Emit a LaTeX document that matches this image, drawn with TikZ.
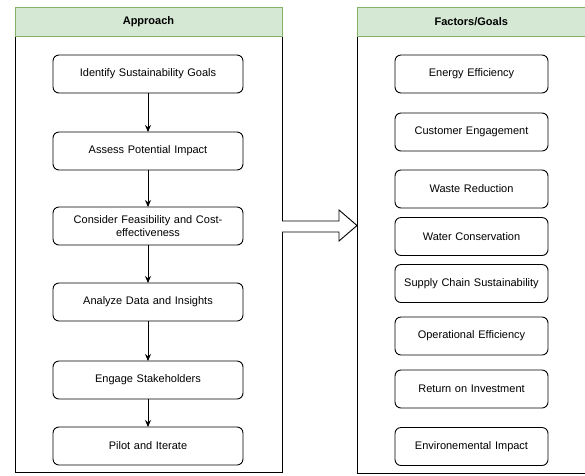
\documentclass[tikz,border=0pt]{standalone}
\usepackage{fontspec}
\setmainfont{Liberation Sans}
\usetikzlibrary{arrows.meta, positioning}
\definecolor{HeadGreen}{HTML}{D5E8D4}
\definecolor{HeadEdge}{HTML}{82B366}

\begin{document}
\begin{tikzpicture}[
  x=1pt, y=-1pt,
  font=\fontsize{11}{13}\selectfont,
  panel/.style={rectangle, draw=black, line width=0.9pt, inner sep=0pt},
  header/.style={rectangle, draw=HeadEdge, fill=HeadGreen, line width=0.9pt,
                 minimum height=29pt, inner sep=0pt,
                 font=\fontsize{11}{13}\selectfont\bfseries},
  stepbox/.style={rectangle, rounded corners=6pt, draw=black, line width=0.9pt,
                  fill=white, minimum width=190pt, minimum height=38pt,
                  outer sep=0pt, align=center, text width=180pt},
  goalbox/.style={stepbox, minimum width=153pt, text width=146pt},
  arrow/.style={-{Stealth[length=7pt, width=6pt]}, line width=0.9pt},
  bigarrow/.style={draw=black, fill=white, line width=0.9pt},
]
\useasboundingbox (0,0) rectangle (585,475);

% APPROACH panel
\node[panel, minimum width=267pt, minimum height=436pt] (apanel) at (148.5,254) {};
\node[header, minimum width=267pt] (ahead) at (148.5,21.5) {Approach};

\node[stepbox] (s1) at (148,74) {Identify Sustainability Goals};
\node[stepbox, below=39pt of s1] (s2) {Assess Potential Impact};
\node[stepbox, below=37pt of s2] (s3) {Consider Feasibility and Cost-\\effectiveness};
\node[stepbox, below=38pt of s3] (s4) {Analyze Data and Insights};
\node[stepbox, below=40pt of s4] (s5) {Engage Stakeholders};
\node[stepbox, below=28pt of s5] (s6) {Pilot and Iterate};
\draw[arrow] (s1) -- (s2);
\draw[arrow] (s2) -- (s3);
\draw[arrow] (s3) -- (s4);
\draw[arrow] (s4) -- (s5);
\draw[arrow] (s5) -- (s6);

% FACTORS/GOALS panel
\node[panel, minimum width=228.5pt, minimum height=437pt] (gpanel) at (471.25,254.5) {};
\node[header, minimum width=228.5pt] (ghead) at (471.25,21.5) {Factors/Goals};

\node[goalbox] (g1) at (471.5,74) {Energy Efficiency};
\node[goalbox, below=20pt of g1] (g2) {Customer Engagement};
\node[goalbox, below=19pt of g2] (g3) {Waste Reduction};
\node[goalbox, below=9.5pt of g3] (g4) {Water Conservation};
\node[goalbox, below=9pt of g4] (g5) {Supply Chain Sustainability};
\node[goalbox, below=14.5pt of g5] (g6) {Operational Efficiency};
\node[goalbox, below=15pt of g6] (g7) {Return on Investment};
\node[goalbox, below=19.5pt of g7] (g8) {Environemental Impact};

% hollow arrow between the panels
\draw[bigarrow] (282,221) -- (339,221) -- (339,210) -- (357,225.5)
  -- (339,241) -- (339,232) -- (282,232);

\end{tikzpicture}
\end{document}
